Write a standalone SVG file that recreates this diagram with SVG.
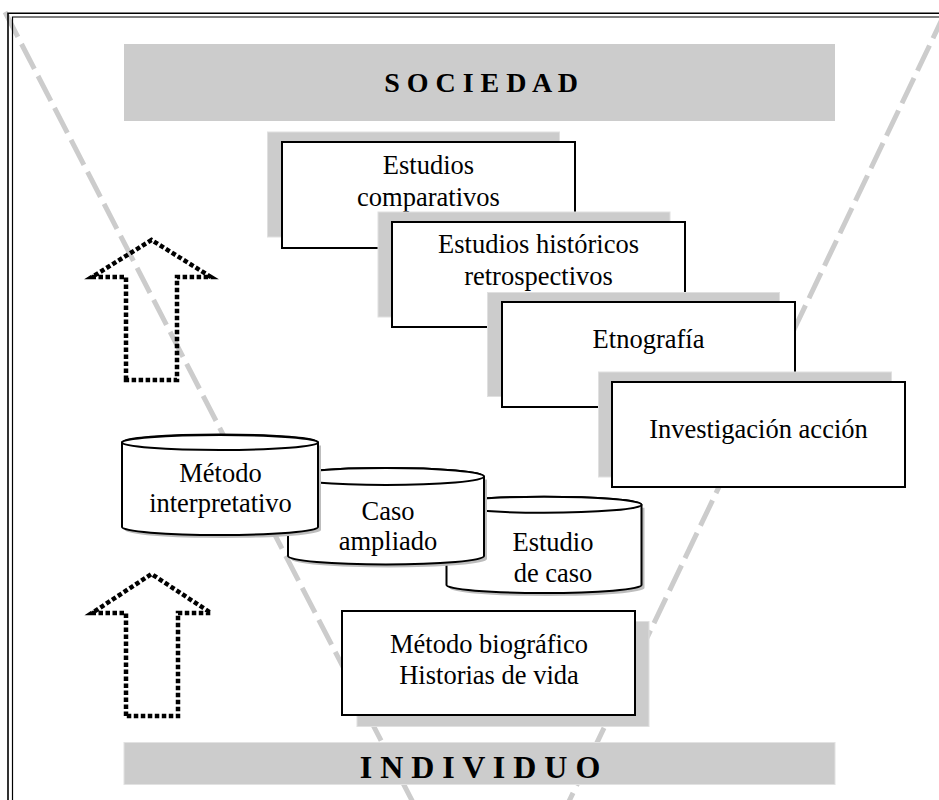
<svg xmlns="http://www.w3.org/2000/svg" width="939" height="800" viewBox="0 0 939 800">
<defs>
<style>
.vline{fill:none;stroke:#cccccc;stroke-width:5;stroke-dasharray:28 8}
.bar{fill:#cccccc;stroke:#e2e2e2;stroke-width:1}
.bartxt{font-family:"Liberation Serif","Times New Roman",serif;font-weight:bold;fill:#000;text-anchor:middle}
.shadow{fill:#cccccc;stroke:#e0e0e0;stroke-width:1}
.box{fill:#fff;stroke:#000;stroke-width:2}
.txt{font-family:"Liberation Serif","Times New Roman",serif;font-size:26.5px;fill:#000;text-anchor:middle}
.cyl{fill:#fff;stroke:#000;stroke-width:2}
.cylsh{fill:#bdbdbd;stroke:none}
.arrow{fill:none;stroke:#000;stroke-width:4.5;stroke-dasharray:4.5 2.5}
.frame{fill:none;stroke:#000}
</style>
</defs>
<rect width="939" height="800" fill="#fff"/>
<g id="funnel">
<line class="vline" x1="5" y1="12" x2="420" y2="816"/>
<line class="vline" x1="945" y1="13" x2="562" y2="816"/>
</g>
<g id="frame">
<path class="frame" stroke-width="1.6" d="M8,800 V13.3 H939"/>
<path class="frame" stroke-width="1.2" d="M12.5,800 V17 H939"/>
</g>
<g id="sociedad">
<rect class="bar" x="124" y="44" width="711" height="77" style="stroke:none"/>
<text class="bartxt" x="481" y="92" font-size="28">S O C I E D A D</text>
</g>
<g id="individuo">
<rect class="bar" x="124" y="742.5" width="711" height="42"/>
<text class="bartxt" x="480" y="778" font-size="32">I N D I V I D U O</text>
</g>
<g id="arrows">
<g id="arrow-top"><path class="arrow" d="M126,380 V277 H92 L151.5,240 L211,277 H177 V380 Z"/></g>
<g id="arrow-bottom"><path class="arrow" d="M126,716 V613 H92 L151.5,574 L211,613 H178 V716 Z"/></g>
</g>
<g id="estudios-comparativos">
<rect class="shadow" x="267.5" y="132" width="292" height="105"/>
<rect class="box" x="282" y="142" width="293" height="106"/>
<text class="txt" x="428.5" y="174">Estudios</text>
<text class="txt" x="428.5" y="206">comparativos</text>
</g>
<g id="estudios-historicos">
<rect class="shadow" x="378" y="212" width="292" height="105"/>
<rect class="box" x="392" y="222" width="293" height="105"/>
<text class="txt" x="538.5" y="253">Estudios históricos</text>
<text class="txt" x="538.5" y="285">retrospectivos</text>
</g>
<g id="etnografia">
<rect class="shadow" x="487.5" y="292.5" width="292" height="104"/>
<rect class="box" x="502" y="302" width="293" height="105"/>
<text class="txt" x="648.5" y="348">Etnografía</text>
</g>
<g id="investigacion-accion">
<rect class="shadow" x="598.5" y="372" width="293" height="105"/>
<rect class="box" x="612" y="382" width="293" height="105"/>
<text class="txt" x="758.5" y="438">Investigación acción</text>
</g>
<g id="estudio-de-caso">
<path class="cylsh" d="M449.5,507.7 V588 A97.5,8 0 0 0 644.5,588 V507.7 Z"/>
<path class="cyl" d="M446.5,504.7 V585 A97.5,8 0 0 0 641.5,585 V504.7 A97.5,8 0 0 0 446.5,504.7 Z"/>
<ellipse class="cyl" cx="544" cy="504.7" rx="97.5" ry="8"/>
<text class="txt" x="553" y="551">Estudio</text>
<text class="txt" x="553" y="582">de caso</text>
</g>
<g id="caso-ampliado">
<path class="cylsh" d="M291,479.5 V559 A98,8.5 0 0 0 487,559 V479.5 Z"/>
<path class="cyl" d="M288,476.5 V556 A98,8.5 0 0 0 484,556 V476.5 A98,8.5 0 0 0 288,476.5 Z"/>
<ellipse class="cyl" cx="386" cy="476.5" rx="98" ry="8.5"/>
<text class="txt" x="388" y="520">Caso</text>
<text class="txt" x="388" y="550">ampliado</text>
</g>
<g id="metodo-interpretativo">
<path class="cylsh" d="M125,445.5 V530 A98,8 0 0 0 321,530 V445.5 Z"/>
<path class="cyl" d="M122,442.5 V527 A98,8 0 0 0 318,527 V442.5 A98,8 0 0 0 122,442.5 Z"/>
<ellipse class="cyl" cx="220" cy="442.5" rx="98" ry="7.5"/>
<text class="txt" x="220.5" y="482">Método</text>
<text class="txt" x="220.5" y="512">interpretativo</text>
</g>
<g id="metodo-biografico">
<rect class="shadow" x="357" y="621.5" width="292" height="105"/>
<rect class="box" x="342" y="611" width="293" height="104"/>
<text class="txt" x="489" y="653">Método biográfico</text>
<text class="txt" x="489" y="684">Historias de vida</text>
</g>
</svg>
